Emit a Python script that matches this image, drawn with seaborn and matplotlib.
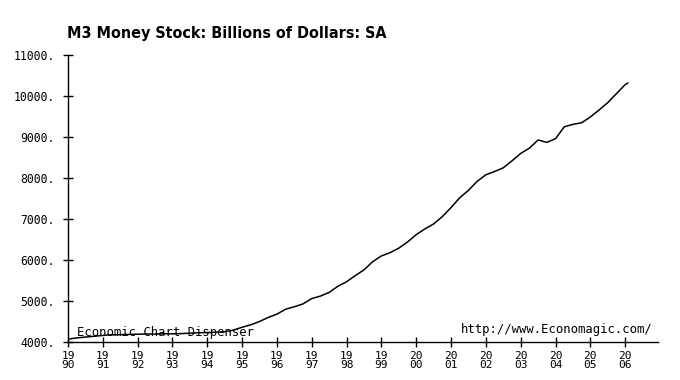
import matplotlib
matplotlib.use("Agg")
import matplotlib.pyplot as plt
import seaborn as sns
import pandas as pd

# quarterly readings of M3 (billions of dollars, SA)
years = [
    1990.0, 1990.25, 1990.5, 1990.75, 1991.0, 1991.25, 1991.5, 1991.75,
    1992.0, 1992.25, 1992.5, 1992.75, 1993.0, 1993.25, 1993.5, 1993.75,
    1994.0, 1994.25, 1994.5, 1994.75, 1995.0, 1995.25, 1995.5, 1995.75,
    1996.0, 1996.25, 1996.5, 1996.75, 1997.0, 1997.25, 1997.5, 1997.75,
    1998.0, 1998.25, 1998.5, 1998.75, 1999.0, 1999.25, 1999.5, 1999.75,
    2000.0, 2000.25, 2000.5, 2000.75, 2001.0, 2001.25, 2001.5, 2001.75,
    2002.0, 2002.25, 2002.5, 2002.75, 2003.0, 2003.25, 2003.5, 2003.75,
    2004.0, 2004.25, 2004.5, 2004.75, 2005.0, 2005.25, 2005.5, 2005.75,
    2006.0, 2006.08,
]
m3 = [
    4070, 4100, 4120, 4140, 4160, 4175, 4180, 4185,
    4190, 4195, 4195, 4200, 4200, 4205, 4215, 4225,
    4230, 4240, 4250, 4290, 4360, 4420, 4500, 4600,
    4680, 4800, 4860, 4930, 5060, 5120, 5210, 5360,
    5470, 5620, 5760, 5960, 6100, 6180, 6290, 6440,
    6620, 6760, 6880, 7060, 7280, 7520, 7700, 7920,
    8080, 8160, 8250, 8420, 8600, 8730, 8930, 8870,
    8960, 9250, 9310, 9350, 9490, 9660, 9840, 10060,
    10280, 10320,
]
year_ticks = list(range(1990, 2007))
value_ticks = [4000, 5000, 6000, 7000, 8000, 9000, 10000, 11000]

df = pd.DataFrame({"year": years, "m3": m3})

sns.set_style("ticks")
plt.rcParams["font.family"] = ["DejaVu Sans Mono"]
plt.rcParams["text.color"] = "black"

fig = plt.figure(figsize=(6.8, 3.8), dpi=100)
ax = fig.add_axes([0.1, 0.1, 0.868, 0.755])

sns.lineplot(data=df, x="year", y="m3", color="black", linewidth=1.1, ax=ax)

ax.set_xlim(1990, 2006.95)
ax.set_ylim(4000, 11000)
ax.set_xticks(year_ticks)
ax.set_xticklabels([f"{str(y)[:2]}\n{str(y)[2:]}" for y in year_ticks],
                   fontsize=8, linespacing=0.85)
ax.set_yticks(value_ticks)
ax.set_yticklabels([f"{v}." for v in value_ticks], fontsize=8.3)
ax.tick_params(direction="inout", length=7, width=1, color="black",
               labelcolor="black", pad=6)
ax.tick_params(axis="x", pad=3)
ax.set_xlabel("")
ax.set_ylabel("")
for side in ["top", "right"]:
    ax.spines[side].set_visible(False)
for side in ["left", "bottom"]:
    ax.spines[side].set_color("black")
    ax.spines[side].set_linewidth(1.0)

ax.text(0.015, 0.012, "Economic Chart Dispenser", transform=ax.transAxes,
        fontsize=8.8, ha="left", va="bottom")
ax.text(0.99, 0.02, "http://www.Economagic.com/", transform=ax.transAxes,
        fontsize=8.8, ha="right", va="bottom")

fig.text(0.098, 0.913, "M3 Money Stock: Billions of Dollars: SA",
         family=["DejaVu Sans"], fontstretch="condensed", fontweight="bold",
         fontsize=11.5, ha="left", va="center", color="black")

fig.savefig("out.png", dpi=100, facecolor="white")
